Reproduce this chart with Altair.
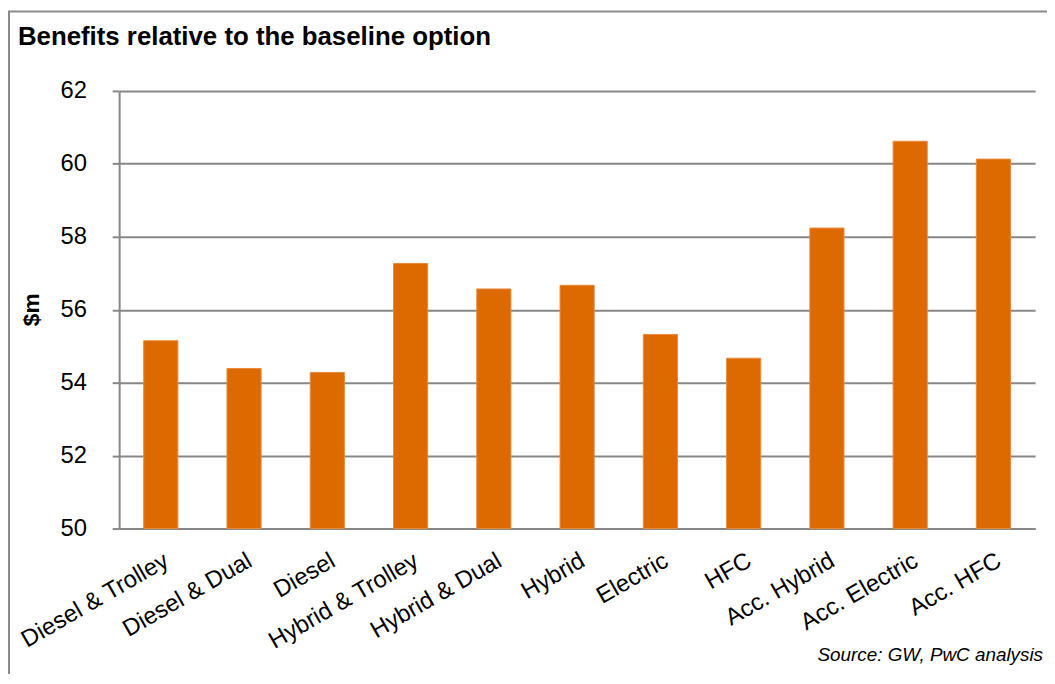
import altair as alt
import pandas as pd

categories = ["Diesel & Trolley", "Diesel & Dual", "Diesel", "Hybrid & Trolley",
              "Hybrid & Dual", "Hybrid", "Electric", "HFC", "Acc. Hybrid",
              "Acc. Electric", "Acc. HFC"]
values = [55.15, 54.39, 54.28, 57.27, 56.57, 56.67, 55.32, 54.67, 58.24, 60.62, 60.13]
y_ticks = [50, 52, 54, 56, 58, 60, 62]

title_text = "Benefits relative to the baseline option"
y_title = "$m"
source_text = "Source: GW, PwC analysis"

df = pd.DataFrame({"option": categories, "value": values})

FONT = "Liberation Sans"
W, H = 923, 441
GRAY = "#878787"

bars = alt.Chart(df).mark_bar(color="#DD6A00", stroke="#E88A3A", strokeWidth=1).encode(
    x=alt.X("option:N", sort=categories,
            scale=alt.Scale(paddingInner=0.59, paddingOuter=0.295),
            axis=alt.Axis(title=None, labelAngle=330, labelAlign="right", labelBaseline="top",
                          labelFontSize=24, labelFont=FONT, labelColor="#000000",
                          labelPadding=20, ticks=False, domainColor=GRAY, domainWidth=2,
                          grid=False, labelOverlap=False)),
    y=alt.Y("value:Q", scale=alt.Scale(domain=[50, 62], zero=False, nice=False),
            axis=alt.Axis(title=None, values=y_ticks, labelFontSize=24, labelFont=FONT,
                          labelColor="#000000", labelPadding=26, tickSize=7, tickColor=GRAY,
                          tickWidth=2, domainColor=GRAY, domainWidth=2, grid=True,
                          gridColor=GRAY, gridWidth=2)),
    y2=alt.datum(50),
)

one = alt.Data(values=[{"a": 1}])

border = alt.Chart(one).mark_rect(fill="white", fillOpacity=0, stroke="#8a8a8a", strokeWidth=2).encode(
    x=alt.value(-111), x2=alt.value(1100), y=alt.value(-80), y2=alt.value(700)
)

title = alt.Chart(one).mark_text(align="left", baseline="alphabetic", fontSize=26,
                                 fontWeight="bold", font=FONT, color="#000000").encode(
    x=alt.value(-102), y=alt.value(-46), text=alt.value(title_text)
)

ytitle = alt.Chart(one).mark_text(align="center", baseline="middle", fontSize=23, angle=270,
                                  fontWeight="bold", font=FONT, color="#000000").encode(
    x=alt.value(-88), y=alt.value(H / 2), text=alt.value(y_title)
)

source = alt.Chart(one).mark_text(align="right", baseline="alphabetic", fontSize=19,
                                  fontStyle="italic", font=FONT, color="#000000").encode(
    x=alt.value(931), y=alt.value(574), text=alt.value(source_text)
)

chart = alt.layer(bars, border, title, ytitle, source).properties(
    width=W, height=H,
    autosize=alt.AutoSizeParams(type="none"),
    padding={"left": 112, "top": 81, "right": 12, "bottom": 144},
    background="white",
).configure_view(stroke=None)

chart.save("out.html", embed_options={"renderer": "svg", "actions": False})
